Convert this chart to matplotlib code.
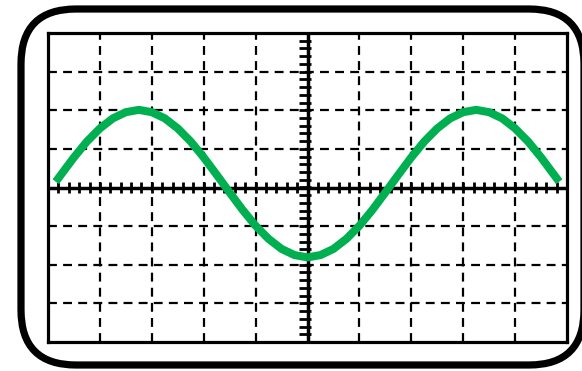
import numpy as np
import matplotlib.pyplot as plt
from matplotlib.patches import FancyBboxPatch

# trace, in divisions (x: -5..5, y: -4..4)
trace_x = [-4.85, -4.75, -4.5, -4.25, -4.0, -3.75, -3.5, -3.25, -3.0, -2.75,
           -2.5, -2.25, -2.0, -1.75, -1.5, -1.25, -1.0, -0.75, -0.5, -0.25,
           0.0, 0.25, 0.5, 0.75, 1.0, 1.25, 1.5, 1.75, 2.0, 2.25,
           2.5, 2.75, 3.0, 3.25, 3.5, 3.75, 4.0, 4.25, 4.5, 4.75, 4.85]
trace_y = [0.15, 0.33, 0.78, 1.19, 1.53, 1.79, 1.95, 2.01, 1.95, 1.79,
           1.53, 1.19, 0.78, 0.33, -0.13, -0.58, -0.99, -1.33, -1.59, -1.75,
           -1.81, -1.75, -1.59, -1.33, -0.99, -0.58, -0.13, 0.33, 0.78, 1.19,
           1.53, 1.79, 1.95, 2.01, 1.95, 1.79, 1.53, 1.19, 0.78, 0.33, 0.15]

W, H = 582, 371
fig = plt.figure(figsize=(W / 100, H / 100), dpi=100)

# outer rounded bezel, drawn in pixel coords
bg = fig.add_axes([0, 0, 1, 1], zorder=0)
bg.set_xlim(0, W)
bg.set_ylim(H, 0)
bg.axis('off')
bezel = FancyBboxPatch((21, 9), 563, 356, boxstyle='round,pad=0,rounding_size=55',
                       fc='white', ec='black', lw=5.2)
bg.add_patch(bezel)

# screen
ax = fig.add_axes([48 / W, (H - 342) / H, 519 / W, 309 / H], zorder=1)
ax.set_xlim(-5, 5)
ax.set_ylim(-4, 4)
ax.set_xticks([])
ax.set_yticks([])
for s in ax.spines.values():
    s.set_linewidth(2.3)

dash = (0, (4.0, 2.8))
for gx in [-4, -3, -2, -1, 1, 2, 3, 4]:
    ax.axvline(gx, color='black', lw=1.6, ls=dash, zorder=1)
for gy in [-3, -2, -1, 1, 2, 3]:
    ax.axhline(gy, color='black', lw=1.6, ls=dash, zorder=1)

ax.axhline(0, color='black', lw=2.5, zorder=2)
ax.axvline(0, color='black', lw=2.5, zorder=2)

# small ticks on the centre axes
tx = np.arange(-5, 5.01, 0.2)
ax.vlines(tx, -0.13, 0.13, color='black', lw=2.0, zorder=2)
ty = np.arange(-4, 4.01, 0.2)
ax.hlines(ty, -0.17, 0.07, color='black', lw=2.0, zorder=2)

ax.plot(trace_x, trace_y, color='#00b050', lw=5.8, solid_capstyle='butt',
        solid_joinstyle='round', zorder=3)

fig.savefig('out.png', dpi=100)
